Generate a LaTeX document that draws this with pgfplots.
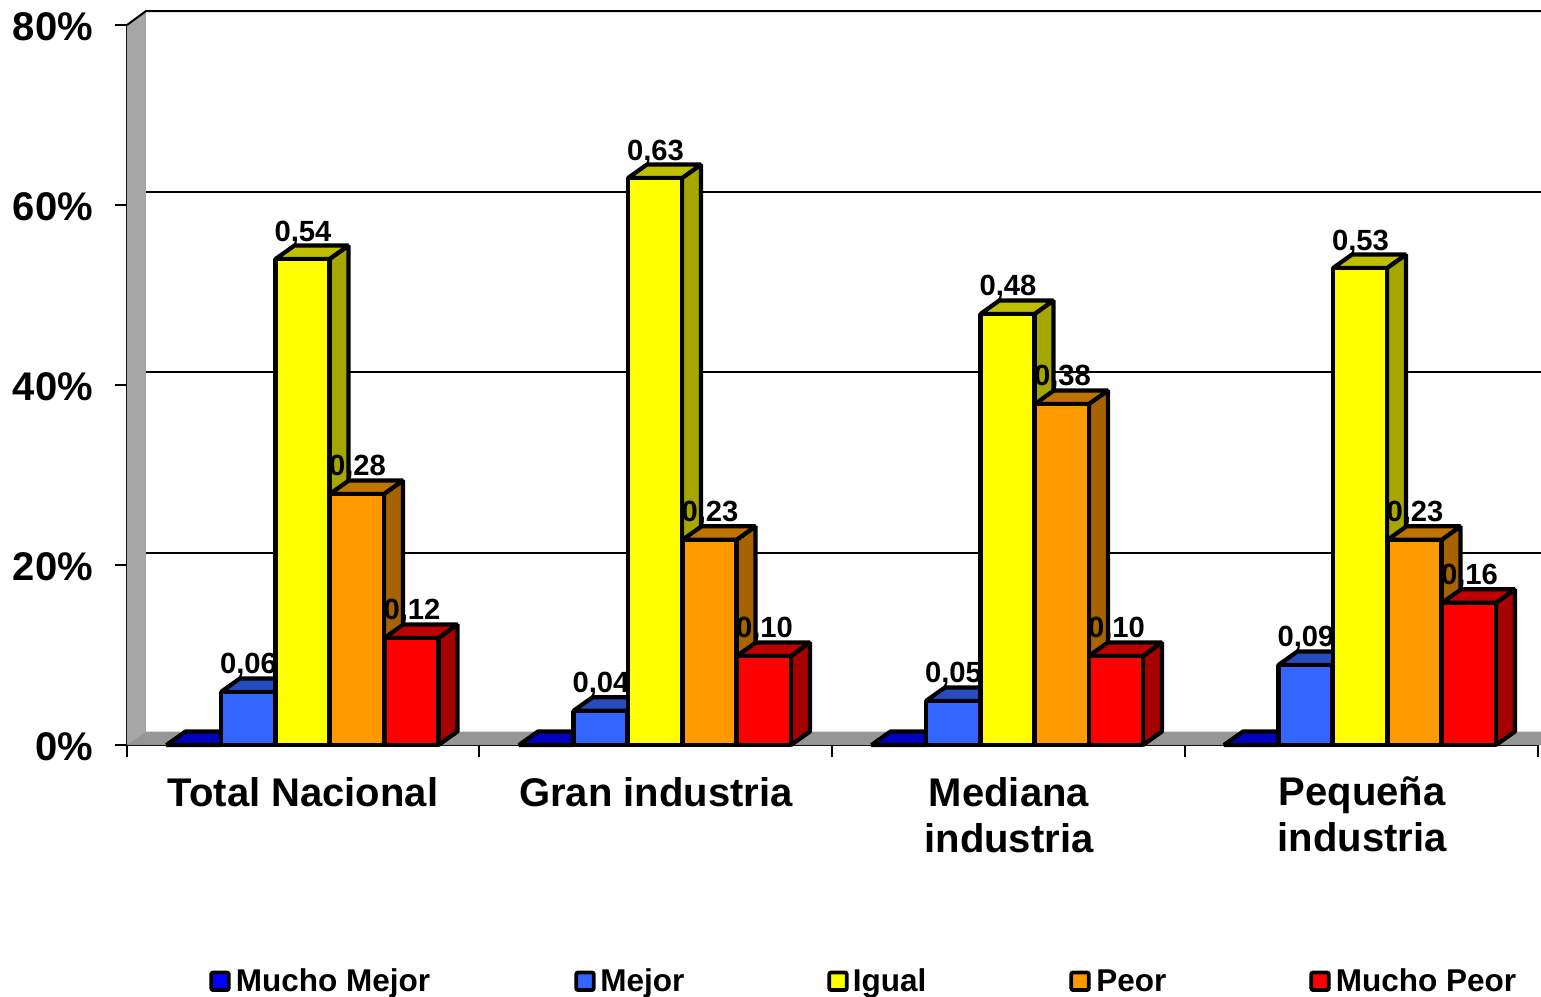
\documentclass[border=0pt]{standalone}
\usepackage{pgfplots}
\usepackage{fontspec}
\setmainfont{Liberation Sans}
\pgfplotsset{compat=1.18}
\definecolor{wallc}{HTML}{A6A6A6}
\definecolor{floorc}{HTML}{969696}
\definecolor{mmF}{HTML}{0000FF}\definecolor{mmT}{HTML}{0000C0}\definecolor{mmS}{HTML}{0000A6}
\definecolor{meF}{HTML}{3366FF}\definecolor{meT}{HTML}{264CBF}\definecolor{meS}{HTML}{2244A6}
\definecolor{igF}{HTML}{FFFF00}\definecolor{igT}{HTML}{BFBF00}\definecolor{igS}{HTML}{A6A600}
\definecolor{peF}{HTML}{FF9900}\definecolor{peT}{HTML}{BF7300}\definecolor{peS}{HTML}{A66300}
\definecolor{mpF}{HTML}{FF0000}\definecolor{mpT}{HTML}{C00000}\definecolor{mpS}{HTML}{A60000}
% #1 left x (px), #2 value (%), #3 colour prefix, #4 label
\newcommand{\tdbar}[4]{%
  \pgfmathsetmacro\xr{#1+54}%
  \pgfmathsetmacro\xrb{#1+73}%
  \pgfmathsetmacro\xlb{#1+19}%
  \pgfmathsetmacro\yb{#2+1.5}%
  \pgfmathsetmacro\xc{#1+27.5}%
  \pgfmathsetmacro\yl{#2+2.0}%
  \edef\temp{%
    \noexpand\addplot[barline,fill=#3S] coordinates {(\xr,0) (\xrb,1.5) (\xrb,\yb) (\xr,#2)} --cycle;
    \noexpand\addplot[barline,fill=#3T] coordinates {(#1,#2) (\xlb,\yb) (\xrb,\yb) (\xr,#2)} --cycle;
    \noexpand\addplot[barline,fill=#3F] coordinates {(#1,0) (#1,#2) (\xr,#2) (\xr,0)} --cycle;
    \noexpand\addplot[draw=none] coordinates {(\xc,\yl)} node[pos=0,anchor=base,inner sep=0pt,font=\noexpand\fontsize{14.6}{17}\noexpand\selectfont\noexpand\bfseries] {#4};
  }\temp}
\newcommand{\legitem}[4]{% marker centre x, colour, text x, text
  \node[draw=black,line width=1.9pt,fill=#2,rounded corners=1pt,minimum size=8.8pt,inner sep=0pt] at (axis cs:#1,-26.25) {};
  \node[anchor=base west,inner sep=0pt,font=\fontsize{15.75}{18}\selectfont\bfseries] at (axis cs:#3,-27.35) {#4};
}
\begin{document}
\begin{tikzpicture}
\begin{axis}[
  x=0.5pt, y=4.5pt,
  xmin=127, xmax=1538, ymin=0, ymax=80,
  clip=false,
  axis x line=bottom, axis y line=left,
  axis line style={-,line width=1pt,black},
  barline/.style={draw=black,line width=2.1pt,line join=bevel,mark=none},
  tick align=outside,
  ytick={0,20,40,60,80},
  yticklabel={\pgfmathprintnumber{\tick}\%},
  yticklabel style={font=\fontsize{20}{23}\selectfont\bfseries,xshift=-7.5pt,yshift=-1pt},
  tick style={black,line width=0.6pt},
  /pgf/number format/assume math mode=true,
  major tick length=6pt,
  xtick={127,479,832,1185,1538},
  xticklabels={,,,,},
  xticklabel style={font=\fontsize{20}{23}\selectfont\bfseries,align=center,yshift=-6.5pt},
  extra x ticks={303,656,1009,1362},
  extra x tick labels={Total Nacional,Gran industria,{Mediana\\industria},{Pequeña\\industria}},
  extra x tick style={tick style={draw=none},major tick length=6pt},
]
% walls and floor
\addplot[fill=wallc,draw=none] coordinates {(127,0) (127,80) (146,81.55) (146,1.5)} --cycle;
\addplot[fill=floorc,draw=none] coordinates {(127,0) (146,1.5) (1541,1.5) (1541,0)} --cycle;
% grid on the back wall
\addplot[black,line width=1pt,mark=none] coordinates {(127,80) (146,81.55) (1541,81.55)};
\addplot[black,line width=1pt,mark=none] coordinates {(146,61.5) (1541,61.5)};
\addplot[black,line width=1pt,mark=none] coordinates {(146,41.45) (1541,41.45)};
\addplot[black,line width=1pt,mark=none] coordinates {(146,21.35) (1541,21.35)};
% Total Nacional
\tdbar{166.5}{0}{mm}{}
\tdbar{221}{5.9}{me}{0,06}
\tdbar{275.5}{54.0}{ig}{0,54}
\tdbar{330}{27.9}{pe}{0,28}
\tdbar{384.5}{11.9}{mp}{0,12}
% Gran industria
\tdbar{519}{0}{mm}{}
\tdbar{573.5}{3.8}{me}{0,04}
\tdbar{628}{63.0}{ig}{0,63}
\tdbar{682.5}{22.8}{pe}{0,23}
\tdbar{737}{9.9}{mp}{0,10}
% Mediana industria
\tdbar{871.5}{0}{mm}{}
\tdbar{926}{4.9}{me}{0,05}
\tdbar{980.5}{47.9}{ig}{0,48}
\tdbar{1035}{37.9}{pe}{0,38}
\tdbar{1089}{9.9}{mp}{0,10}
% Pequeña industria
\tdbar{1224}{0}{mm}{}
\tdbar{1278.5}{8.9}{me}{0,09}
\tdbar{1333}{53.0}{ig}{0,53}
\tdbar{1387.5}{22.8}{pe}{0,23}
\tdbar{1442}{15.8}{mp}{0,16}
% legend
\legitem{220}{mmF}{235.5}{Mucho Mejor}
\legitem{585}{meF}{600}{Mejor}
\legitem{838}{igF}{852.5}{Igual}
\legitem{1080}{peF}{1096}{Peor}
\legitem{1320}{mpF}{1335.5}{Mucho Peor}
\end{axis}
\pgfresetboundingbox
\path[use as bounding box] (-63.5pt,-125.5pt) rectangle (707pt,372.5pt);
\end{tikzpicture}
\end{document}
